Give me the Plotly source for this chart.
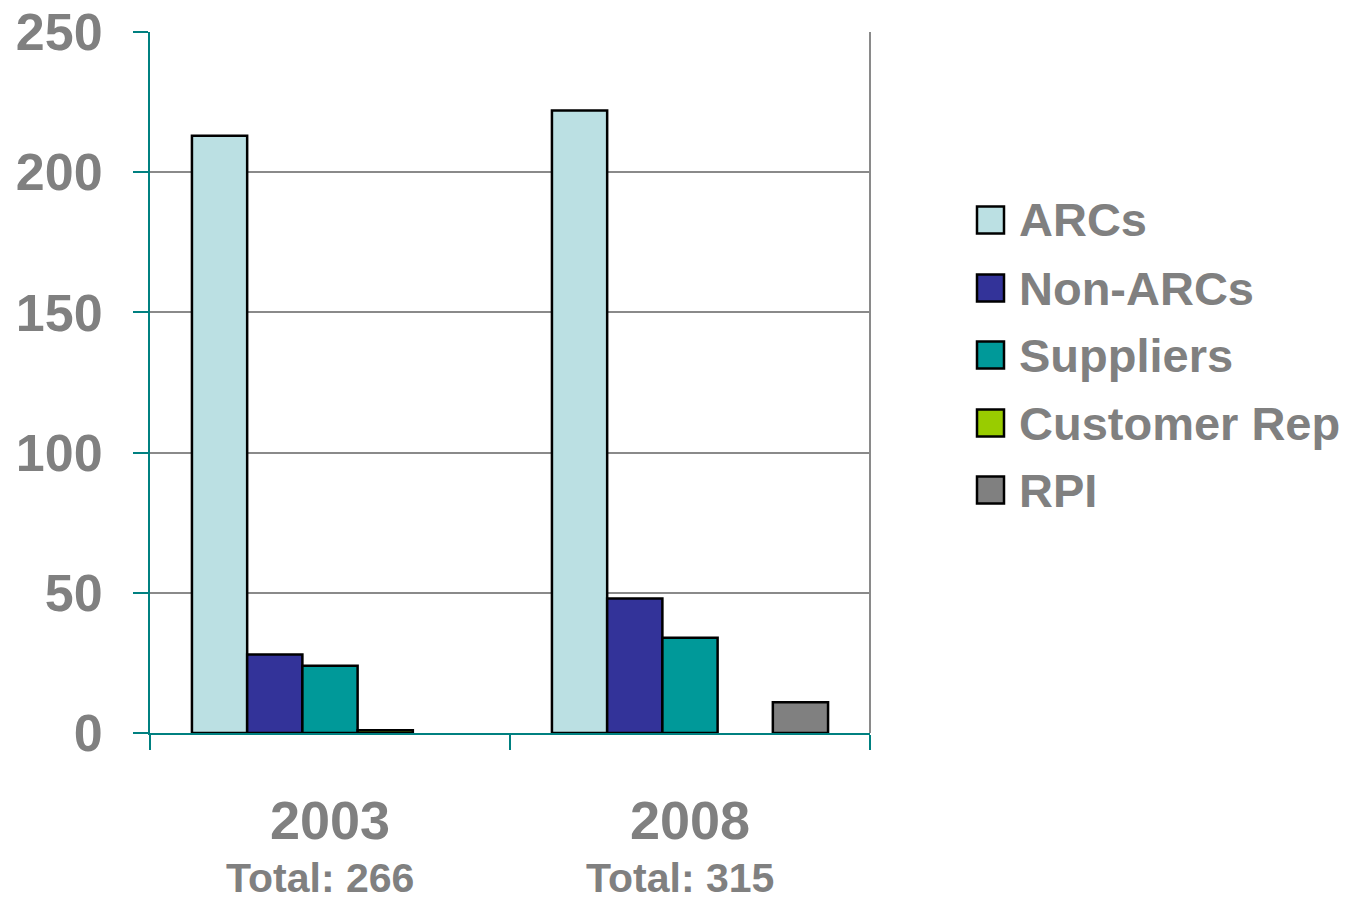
import plotly.graph_objects as go

# Survey respondents by stakeholder group (None = no respondents)
years = ["2003", "2008"]
series_names = ["ARCs", "Non-ARCs", "Suppliers", "Customer Rep", "RPI"]
arcs = [213, 222]
non_arcs = [28, 48]
suppliers = [24, 34]
customer_rep = [1, None]
rpi = [None, 11]
y_ticks = [0, 50, 100, 150, 200, 250]

series_values = [arcs, non_arcs, suppliers, customer_rep, rpi]
colors = ["#BBE0E3", "#333399", "#009999", "#99CC00", "#808080"]

GRAY = "#808080"
TEAL = "#008080"
FONT = "Liberation Sans, Arial, sans-serif"

W, H = 1364, 900
L, R, T, B = 150, 870, 32, 733  # plot area in pixels


def px_x(px):
    return (px - L) / (R - L)


def px_y(py):
    return (B - py) / (B - T)


fig = go.Figure()
for name, vals, col in zip(series_names, series_values, colors):
    fig.add_trace(go.Bar(
        name=name, x=years, y=vals,
        marker=dict(color=col, line=dict(color="black", width=2.5)),
        showlegend=False,
    ))

totals = [sum(v[i] or 0 for v in series_values) for i in range(len(years))]

annotations = []
for idx, (yr, tot) in enumerate(zip(years, totals)):
    # category axis positions are addressed by index
    annotations.append(dict(
        x=idx, xref="x", y=px_y(820), yref="paper", text=yr, showarrow=False,
        font=dict(family=FONT, size=54, color=GRAY, weight="bold"),
        xanchor="center", yanchor="middle",
    ))
    annotations.append(dict(
        x=idx, xref="x", y=px_y(878), yref="paper", text=f"Total: {tot}",
        showarrow=False, xshift=-10,
        font=dict(family=FONT, size=41, color=GRAY, weight="bold"),
        xanchor="center", yanchor="middle",
    ))

# Legend drawn with large swatches
shapes = []
leg_y = [220, 288, 355, 423, 490]
for name, col, cy in zip(series_names, colors, leg_y):
    shapes.append(dict(
        type="rect", xref="paper", yref="paper",
        x0=px_x(977), x1=px_x(1004), y0=px_y(cy + 13.5), y1=px_y(cy - 13.5),
        fillcolor=col, line=dict(color="black", width=2.5),
    ))
    annotations.append(dict(
        x=px_x(1017), xref="paper", y=px_y(cy), yref="paper", text=name,
        showarrow=False, xanchor="left", yanchor="middle",
        font=dict(family=FONT, size=47, color=GRAY, weight="bold"),
    ))

# Right border of the plot area
shapes.append(dict(
    type="line", xref="paper", yref="paper", x0=1, x1=1, y0=0, y1=1,
    line=dict(color="#8a8a8a", width=2), layer="below",
))

fig.update_layout(
    width=W, height=H,
    margin=dict(l=L, r=W - R, t=T, b=H - B, autoexpand=False),
    paper_bgcolor="white", plot_bgcolor="white",
    barmode="group", bargap=0.233, bargroupgap=0,
    shapes=shapes, annotations=annotations,
)
fig.update_xaxes(
    type="category", automargin=False, range=[-0.5, 1.5],
    showticklabels=False, showgrid=False,
    showline=True, linecolor=TEAL, linewidth=2,
    ticks="outside", tickson="boundaries", ticklen=15, tickwidth=2, tickcolor=TEAL,
)
fig.update_yaxes(
    range=[0, 250], tickvals=y_ticks, ticktext=[str(v) for v in y_ticks],
    automargin=False,
    showgrid=True, gridcolor="#8a8a8a", gridwidth=2, zeroline=False,
    showline=True, linecolor=TEAL, linewidth=2,
    ticks="outside", ticklen=15, tickwidth=2, tickcolor=TEAL,
    tickfont=dict(family=FONT, size=52, color=GRAY, weight="bold"),
    ticklabelstandoff=20,
)

fig.write_html("out.html")
